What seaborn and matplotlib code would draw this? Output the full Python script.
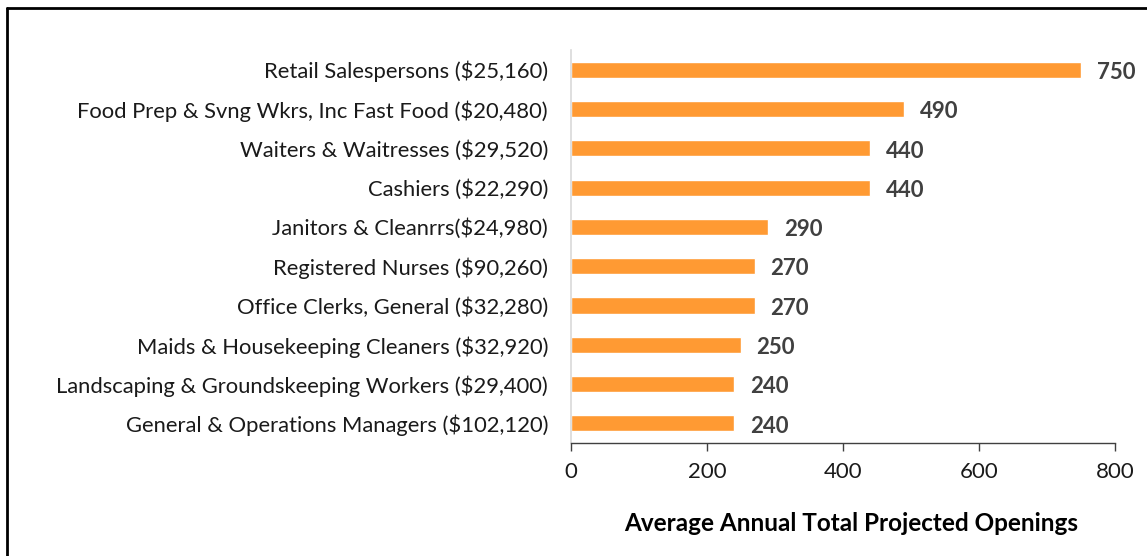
import matplotlib
matplotlib.use("Agg")
import matplotlib.pyplot as plt
from matplotlib.lines import Line2D
import seaborn as sns
import pandas as pd

occupations = [
    "Retail Salespersons ($25,160)",
    "Food Prep & Svng Wkrs, Inc Fast Food ($20,480)",
    "Waiters & Waitresses ($29,520)",
    "Cashiers ($22,290)",
    "Janitors & Cleanrrs($24,980)",
    "Registered Nurses ($90,260)",
    "Office Clerks, General ($32,280)",
    "Maids & Housekeeping Cleaners ($32,920)",
    "Landscaping & Groundskeeping Workers ($29,400)",
    "General & Operations Managers ($102,120)",
]
openings = [750, 490, 440, 440, 290, 270, 270, 250, 240, 240]
x_ticks = [0, 200, 400, 600, 800]
x_label = "Average Annual Total Projected Openings"

df = pd.DataFrame({"occupation": occupations, "openings": openings})

sns.set_theme(style="white")
plt.rcParams["font.family"] = ["Lato", "DejaVu Sans"]

fig = plt.figure(figsize=(11.47, 5.56), dpi=100)
ax = fig.add_axes([0.4978, 0.2032, 0.4743, 0.7068])

sns.barplot(data=df, y="occupation", x="openings", orient="h",
            color="#FF9A33", saturation=1, width=0.41, ax=ax)

ax.set_xlim(0, 800)
ax.set_xticks(x_ticks)
ax.set_xticklabels([str(t) for t in x_ticks], fontsize=16, color="#1a1a1a")
ax.set_ylabel("")
ax.set_xlabel(x_label, fontsize=17.5, fontweight="bold", color="black", labelpad=20)
ax.xaxis.set_label_coords(0.515, -0.175)
ax.tick_params(axis="y", labelsize=15.8, colors="#1a1a1a", length=0, pad=16.5)
ax.tick_params(axis="x", bottom=True, length=6, width=1, color="#404040", pad=8)

for s in ["top", "right"]:
    ax.spines[s].set_visible(False)
ax.spines["left"].set_color("#d9d9d9")
ax.spines["left"].set_linewidth(1.2)
ax.spines["bottom"].set_color("#404040")
ax.spines["bottom"].set_linewidth(1)

for i, v in enumerate(openings):
    ax.text(v + 23, i + 0.07, f"{v}", va="center", ha="left", fontsize=16,
            fontweight="bold", color="#404040")

# frame lines from page border
fig.add_artist(Line2D([7 / 1147, 1.0], [1 - 8 / 556, 1 - 8 / 556],
                      transform=fig.transFigure, color="black", lw=2))
fig.add_artist(Line2D([7 / 1147, 7 / 1147], [0, 1 - 8 / 556],
                      transform=fig.transFigure, color="black", lw=2))

fig.savefig("out.png", dpi=100)
